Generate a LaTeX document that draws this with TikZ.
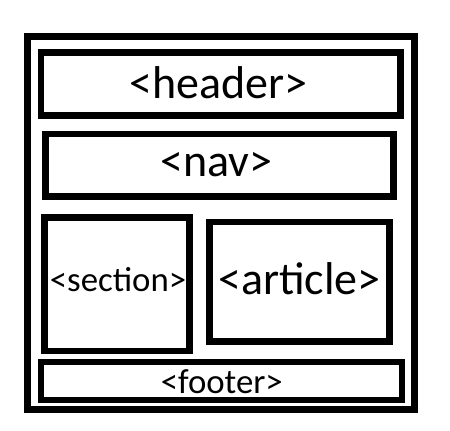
\documentclass[tikz,border=0pt]{standalone}
\usepackage{fontspec}
\setmainfont{Carlito}
\tikzset{
	block/.style = {draw, line width = 6.8pt, inner sep = 0pt},
	bigtag/.style = {anchor = base, inner sep = 0pt, font = \fontsize{46}{46}\selectfont},
	smalltag/.style = {anchor = base, inner sep = 0pt, font = \fontsize{34.8}{35}\selectfont}
}
\begin{document}
\begin{tikzpicture}[x = 1pt, y = -1pt]
		\useasboundingbox (0, 0) rectangle (450, 431);
		
		\node [block, line width = 7pt, minimum width = 387pt, minimum height = 373.5pt] (page) at (221, 223) {};
		
		\node [block, minimum width = 359.7pt, minimum height = 63.4pt] (header) at (220.9, 84) {};
		\node [block, minimum width = 348pt, minimum height = 62.7pt] (nav) at (219.3, 165.3) {};
		\node [block, minimum width = 145pt, minimum height = 133.3pt] (section) at (117.2, 284.3) {};
		\node [block, minimum width = 180.5pt, minimum height = 119.3pt] (article) at (299.5, 281.7) {};
		\node [block, line width = 6.4pt, minimum width = 361.2pt, minimum height = 38pt] (footer) at (221.4, 381) {};
		
		\node [bigtag] (headertext) at (218.3, 98.7) {<header>};
		\node [bigtag] (navtext) at (216.5, 176.7) {<nav>};
		\node [smalltag] (sectiontext) at (118, 291.7) {<section>};
		\node [bigtag] (articletext) at (299.5, 294.3) {<article>};
		\node [smalltag] (footertext) at (221.8, 393.3) {<footer>};
		\end{tikzpicture}
\end{document}
